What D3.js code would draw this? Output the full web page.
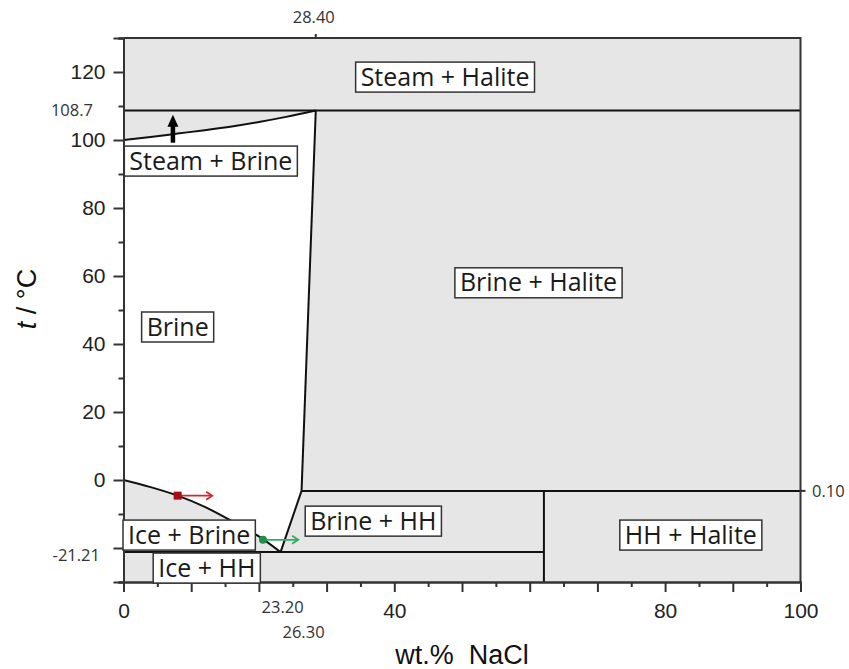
<!DOCTYPE html>
<html>
<head>
<meta charset="utf-8">
<script src="https://cdn.jsdelivr.net/npm/d3@7"></script>
<style>
  body { margin: 0; background: #fff; }
  svg { display: block; }
</style>
</head>
<body>
<div id="chart"></div>
<script>
// phase boundaries, x = wt.% NaCl, y = t / °C
var steamBrineCurve = [[0, 100], [4, 100.9], [8, 101.9], [12, 102.9], [16, 104.0], [20, 105.3], [24, 106.8], [28.4, 108.7]];
var haliteLiquidus = [[28.4, 108.7], [26.3, -3.2]];
var hhLiquidus = [[26.3, -3.2], [23.2, -21.21]];
var iceLiquidus = [[0, 0], [4, -2.1], [8, -4.6], [12, -7.9], [16.2, -12.3], [20, -16.6], [23.2, -21.21]];
var boilingLine = [[0, 108.7], [100, 108.7]];
var eutecticLine = [[0, -21.21], [62.1, -21.21]];
var peritecticLine = [[26.3, -3.2], [100, -3.2]];
var hhLine = [[62.1, -3.2], [62.1, -30]];

// region labels
var regionNames = ["Steam + Halite", "Steam + Brine", "Brine", "Brine + Halite", "Brine + HH", "Ice + Brine", "Ice + HH", "HH + Halite"];
var regionX = [47.5, 12.9, 8.0, 61.3, 36.9, 9.7, 12.3, 83.8];
var regionY = [118.5, 93.8, 45, 58, -12.1, -16.2, -25.9, -16.2];

// arrows: [start, end]
var blackArrow = [[7.3, 99.2], [7.3, 107.4]];
var redArrow = [[8.0, -4.6], [13.1, -4.6]];
var greenArrow = [[20.6, -17.6], [25.8, -17.6]];

// ticks
var xMajorTicks = [0, 10, 20, 30, 40, 50, 60, 70, 80, 90, 100];
var xTickLabels = ["0", "", "", "", "40", "", "", "", "80", "", "100"];
var yMajorTicks = [-20, 0, 20, 40, 60, 80, 100, 120];
var yTickLabels = ["", "0", "20", "40", "60", "80", "100", "120"];
var specialX = [23.2, 26.3];
var specialXLabels = ["23.20", "26.30"];
var specialY = [108.7, -21.21];
var specialYLabels = ["108.7", "-21.21"];
var topTick = 28.4, topTickLabel = "28.40";
var rightTick = -3.2, rightTickLabel = "0.10";

var W = 849, H = 669;
var svg = d3.select("#chart").append("svg").attr("width", W).attr("height", H);

var x = d3.scaleLinear().domain([0, 100]).range([123.5, 800.5]);
var y = d3.scaleLinear().domain([-30, 130]).range([582, 38]);

var line = d3.line().x(d => x(d[0])).y(d => y(d[1]));
var curve = d3.line().x(d => x(d[0])).y(d => y(d[1])).curve(d3.curveMonotoneX);

// grey background for two-phase fields
svg.append("rect")
    .attr("x", x(0)).attr("y", y(130))
    .attr("width", x(100) - x(0)).attr("height", y(-30) - y(130))
    .attr("fill", "#e6e6e6");

// white single phase brine field
var brinePoly = steamBrineCurve.concat(hhLiquidus).concat(iceLiquidus.slice().reverse());
svg.append("path")
    .attr("d", line(brinePoly) + "Z")
    .attr("fill", "#fff");

// boundaries
[haliteLiquidus, hhLiquidus, boilingLine, eutecticLine, peritecticLine, hhLine].forEach(function (seg) {
    svg.append("path").attr("d", line(seg))
        .attr("fill", "none").attr("stroke", "#111").attr("stroke-width", 2);
});
[steamBrineCurve, iceLiquidus].forEach(function (c) {
    svg.append("path").attr("d", curve(c))
        .attr("fill", "none").attr("stroke", "#111").attr("stroke-width", 2);
});

// axes
function styleAxis(g) {
    g.selectAll("path.domain").attr("stroke", "#333").attr("stroke-width", 2);
    g.selectAll(".tick line").attr("stroke", "#333").attr("stroke-width", 2);
    g.selectAll("text").attr("font-family", "'Liberation Sans', Arial, sans-serif")
        .attr("font-size", 21).attr("fill", "#222");
}

var xMinor = d3.range(0, 101, 5).filter(v => v % 10 != 0);
svg.append("g").attr("transform", `translate(0, ${y(-30)})`)
    .call(d3.axisBottom(x).tickValues(xMinor).tickSize(5).tickFormat(""))
    .call(styleAxis);
svg.append("g").attr("transform", `translate(0, ${y(-30)})`)
    .call(d3.axisBottom(x).tickValues(xMajorTicks).tickSize(10).tickPadding(11)
        .tickFormat((d, i) => xTickLabels[i]))
    .call(styleAxis);

var yMinor = d3.range(-30, 131, 10).filter(v => v % 20 != 0);
svg.append("g").attr("transform", `translate(${x(0)}, 0)`)
    .call(d3.axisLeft(y).tickValues(yMinor).tickSize(5).tickFormat(""))
    .call(styleAxis);
svg.append("g").attr("transform", `translate(${x(0)}, 0)`)
    .call(d3.axisLeft(y).tickValues(yMajorTicks).tickSize(10).tickPadding(8)
        .tickFormat((d, i) => yTickLabels[i]))
    .call(styleAxis);

// frame top and right
svg.append("path")
    .attr("d", `M${x(0)},${y(130)}H${x(100)}V${y(-30)}`)
    .attr("fill", "none").attr("stroke", "#333").attr("stroke-width", 2);

// special ticks and labels
var smallFont = "'Open Sans', sans-serif";
specialX.forEach(function (v, i) {
    svg.append("text")
        .attr("x", x(v) + 2).attr("y", i == 0 ? 613 : 638)
        .attr("text-anchor", "middle")
        .attr("font-family", smallFont).attr("font-size", 16.5).attr("fill", "#333")
        .text(specialXLabels[i]);
});
specialY.forEach(function (v, i) {
    svg.append("text")
        .attr("x", i == 0 ? 93 : 100).attr("y", y(v) + (i == 0 ? 6 : 9))
        .attr("text-anchor", "end")
        .attr("font-family", smallFont).attr("font-size", 16.5).attr("fill", "#333")
        .text(specialYLabels[i]);
});
svg.append("line")
    .attr("x1", x(topTick)).attr("x2", x(topTick))
    .attr("y1", y(130)).attr("y2", y(130) - 4)
    .attr("stroke", "#333").attr("stroke-width", 2);
svg.append("text")
    .attr("x", x(topTick) - 2).attr("y", 23)
    .attr("text-anchor", "middle")
    .attr("font-family", smallFont).attr("font-size", 16.5).attr("fill", "#333")
    .text(topTickLabel);
svg.append("line")
    .attr("x1", x(100)).attr("x2", x(100) + 5)
    .attr("y1", y(rightTick)).attr("y2", y(rightTick))
    .attr("stroke", "#333").attr("stroke-width", 2);
svg.append("text")
    .attr("x", 812).attr("y", y(rightTick) + 6)
    .attr("font-family", smallFont).attr("font-size", 16.5).attr("fill", "#333")
    .text(rightTickLabel);

// axis titles
var yTitle = svg.append("text")
    .attr("transform", "translate(36, 299) rotate(-90)")
    .attr("text-anchor", "middle")
    .attr("font-family", "'Liberation Sans', Arial, sans-serif").attr("font-size", 27).attr("fill", "#111");
yTitle.append("tspan").attr("font-style", "italic").text("t");
yTitle.append("tspan").text(" / °C");

svg.append("text")
    .attr("x", 462).attr("y", 664)
    .attr("text-anchor", "middle")
    .attr("font-family", "'Liberation Sans', Arial, sans-serif").attr("font-size", 27).attr("fill", "#111")
    .style("white-space", "pre")
    .text("wt.%  NaCl");

// arrows
var bx = x(blackArrow[0][0]);
svg.append("line")
    .attr("x1", bx).attr("x2", bx)
    .attr("y1", y(blackArrow[0][1])).attr("y2", y(blackArrow[1][1]) + 8)
    .attr("stroke", "#000").attr("stroke-width", 4.5);
svg.append("path")
    .attr("d", `M${bx},${y(blackArrow[1][1])}L${bx - 5.5},${y(blackArrow[1][1]) + 12}L${bx + 5.5},${y(blackArrow[1][1]) + 12}Z`)
    .attr("fill", "#000");

function sideArrow(a, lineColor) {
    var x1 = x(a[0][0]), x2 = x(a[1][0]), yy = y(a[0][1]);
    svg.append("line").attr("x1", x1).attr("x2", x2).attr("y1", yy).attr("y2", yy)
        .attr("stroke", lineColor).attr("stroke-width", 1.8);
    svg.append("path").attr("d", `M${x2 - 6},${yy - 4}L${x2},${yy}L${x2 - 6},${yy + 4}`)
        .attr("fill", "none").attr("stroke", lineColor).attr("stroke-width", 1.8);
}
sideArrow(redArrow, "#d8262b");
svg.append("rect")
    .attr("x", x(redArrow[0][0]) - 4).attr("y", y(redArrow[0][1]) - 4)
    .attr("width", 8).attr("height", 8).attr("fill", "#a80e12");
sideArrow(greenArrow, "#2fae5f");
svg.append("circle")
    .attr("cx", x(greenArrow[0][0])).attr("cy", y(greenArrow[0][1]))
    .attr("r", 4).attr("fill", "#1f8f47");

// boxed region labels
regionNames.forEach(function (name, i) {
    var g = svg.append("g").attr("transform", `translate(${x(regionX[i])}, ${y(regionY[i])})`);
    var box = g.append("rect").attr("fill", "#fff").attr("stroke", "#333").attr("stroke-width", 1.5);
    var t = g.append("text")
        .attr("text-anchor", "middle").attr("y", 8.5)
        .attr("font-family", "'Open Sans', sans-serif").attr("font-size", 25).attr("fill", "#1a1a1a")
        .text(name);
    var w = t.node().getComputedTextLength() + 10;
    box.attr("x", -w / 2).attr("y", -15).attr("width", w).attr("height", 30);
});
</script>
</body>
</html>
